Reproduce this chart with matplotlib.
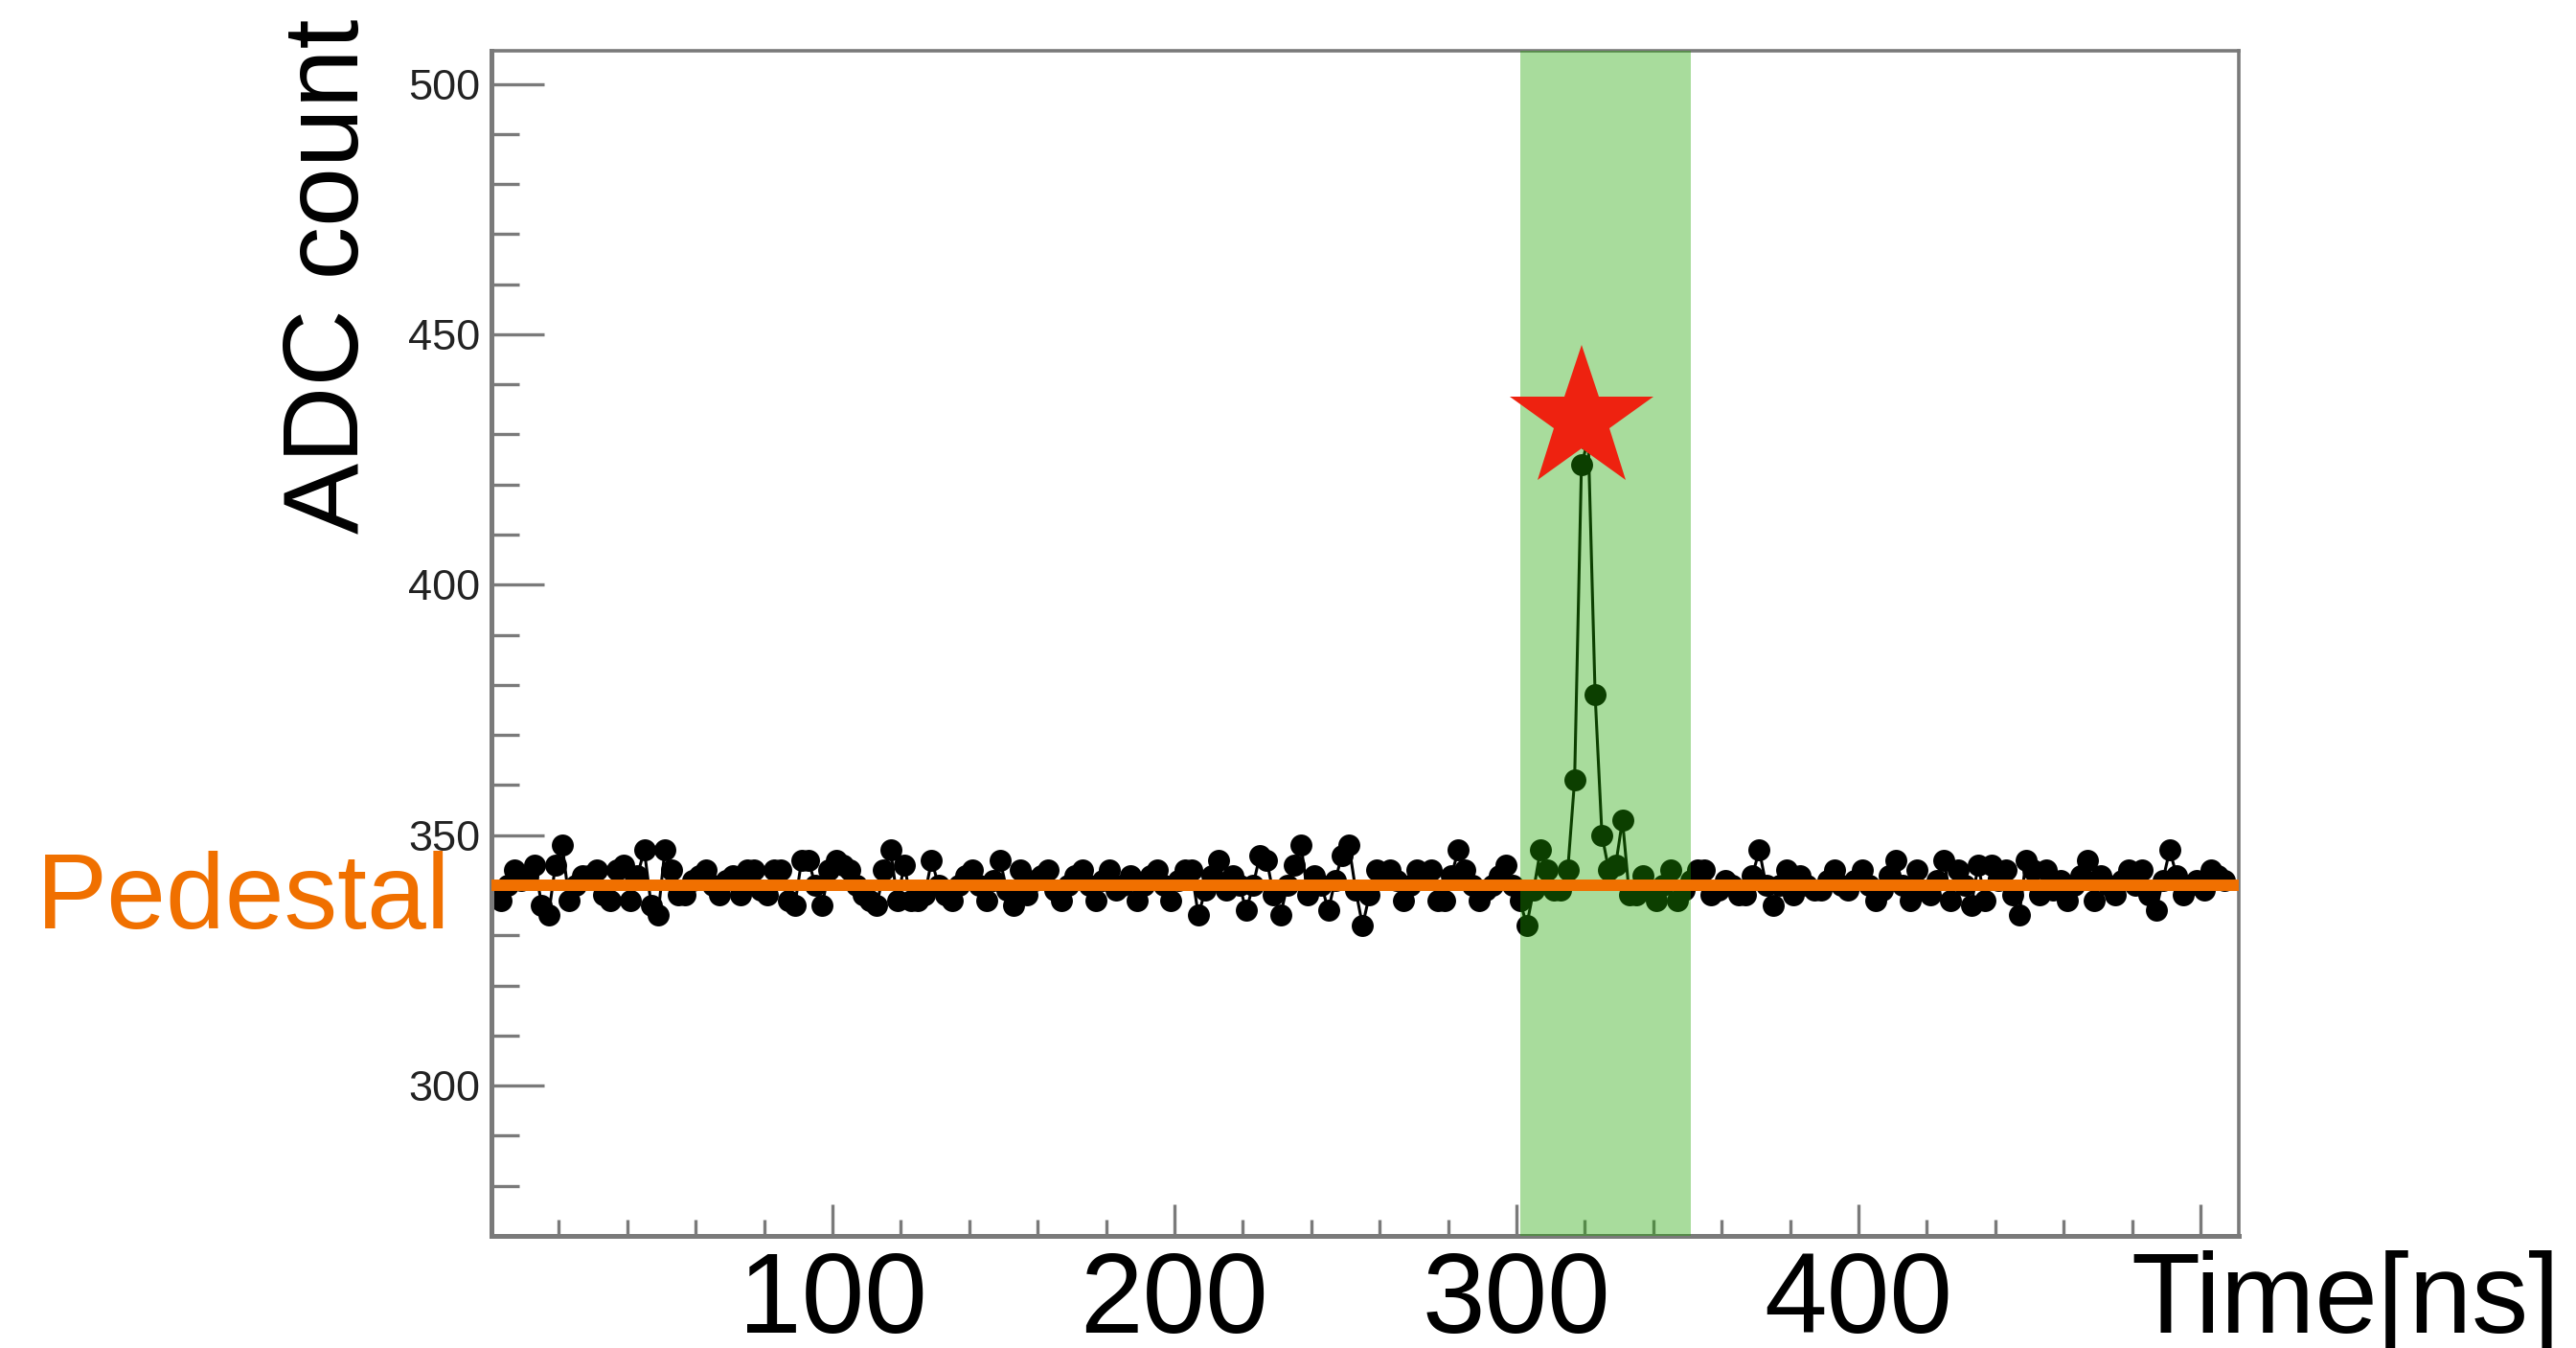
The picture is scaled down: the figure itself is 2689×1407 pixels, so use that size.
import matplotlib
matplotlib.use("Agg")
import matplotlib.pyplot as plt
from matplotlib.ticker import MultipleLocator
import numpy as np

plt.rcParams["font.family"] = ["Liberation Sans", "DejaVu Sans"]

# waveform samples: one ADC reading every 2 ns, first sample at 1 ns
sample_start_ns = 1
sample_step_ns = 2
adc_counts = [
    338, 337, 340, 343, 341, 342, 344, 336, 334, 344,
    348, 337, 340, 342, 342, 343, 338, 337, 343, 344,
    337, 342, 347, 336, 334, 347, 343, 338, 338, 341,
    342, 343, 340, 338, 341, 342, 338, 343, 343, 339,
    338, 343, 343, 337, 336, 345, 345, 340, 336, 343,
    345, 344, 343, 340, 338, 337, 336, 343, 347, 337,
    344, 337, 337, 338,
    345, 340, 338, 337, 340, 342, 343, 340, 337, 341,
    345, 339, 336, 343, 338, 341, 342, 343, 339, 337,
    340, 342, 343, 340, 337, 341, 343, 339, 340, 342,
    337, 340, 342, 343, 340, 337, 341, 343, 343, 334,
    339, 342, 345, 339, 342, 340, 335, 340, 346, 345,
    338, 334, 340, 344, 348, 338, 342, 340, 335, 341,
    346, 348, 339, 332,
    338, 343, 342, 343, 341, 337, 340, 343, 342, 343,
    337, 337, 342, 347, 343, 340, 337, 339, 340, 342,
    344, 340, 337, 332, 339, 347, 343, 339, 339, 343,
    361, 424, 429, 378, 350, 343, 344, 353, 338, 338,
    342, 339, 337, 340, 343, 337, 339, 341, 343, 343,
    338, 339, 341, 340, 338, 338, 342, 347, 340, 336,
    340, 343, 338, 342,
    340, 339, 339, 341, 343, 340, 339, 341, 343, 340,
    337, 339, 342, 345, 340, 337, 343, 339, 338, 341,
    345, 337, 343, 340, 336, 344, 337, 344, 341, 343,
    338, 334, 345, 343, 338, 343, 339, 341, 337, 340,
    342, 345, 337, 342, 340, 338, 341, 343, 340, 343,
    338, 335, 341, 347, 342, 338, 340, 341, 339, 343,
    342, 341,
]
time_ns = sample_start_ns + sample_step_ns * np.arange(len(adc_counts))

pedestal = 340
window_ns = (301, 351)
peak_mark = (319, 433)

x_ticks = [100, 200, 300, 400, 500]
x_tick_labels = ["100", "200", "300", "400", ""]
y_ticks = [300, 350, 400, 450, 500]

W, H = 2689, 1407
fig = plt.figure(figsize=(W / 100, H / 100), dpi=100)
ax = fig.add_axes([513 / W, 1 - 1290 / H, (2337 - 513) / W, (1290 - 53) / H])

ax.plot(time_ns, adc_counts, color="black", lw=2.2, marker="o",
        markersize=16.5, markeredgewidth=0, zorder=2)
ax.axvspan(*window_ns, color="#1fa500", alpha=0.39, lw=0, zorder=3)
ax.axhline(pedestal, color="#f07000", lw=8.6, zorder=4)
ax.plot(*peak_mark, marker="*", color="#ee2210", markersize=113,
        markeredgewidth=0, zorder=5)

ax.set_xlim(0.3, 511.2)
ax.set_ylim(270, 506.6)

ax.xaxis.set_major_locator(MultipleLocator(100))
ax.xaxis.set_minor_locator(MultipleLocator(20))
ax.yaxis.set_major_locator(MultipleLocator(50))
ax.yaxis.set_minor_locator(MultipleLocator(10))
ax.set_xticks(x_ticks)
ax.set_xticklabels(x_tick_labels)
ax.set_yticks(y_ticks)

tick_gray = "#7a7a7a"
ax.tick_params(axis="both", which="both", direction="in", color=tick_gray,
               width=2.4, top=False, right=False)
ax.tick_params(axis="y", which="major", length=39.6, pad=8.5,
               labelsize=32.5, labelcolor="#222222")
ax.tick_params(axis="y", which="minor", length=20.9)
ax.tick_params(axis="x", which="major", length=23.8, pad=11,
               labelsize=85, labelcolor="black")
ax.tick_params(axis="x", which="minor", length=12.2)

for side in ["left", "bottom"]:
    ax.spines[side].set_linewidth(3.6)
    ax.spines[side].set_color(tick_gray)
for side in ["top", "right"]:
    ax.spines[side].set_linewidth(2.6)
    ax.spines[side].set_color(tick_gray)

fig.text(38 / W, 1 - 969 / H, "Pedestal", color="#f07000", fontsize=80,
         ha="left", va="baseline")
fig.text(374 / W, 1 - 557 / H, "ADC count", color="black", fontsize=80,
         rotation=90, rotation_mode="anchor", ha="left", va="baseline")
fig.text(2672 / W, 1 - 1391 / H, "Time[ns]", color="black", fontsize=85,
         ha="right", va="baseline")

fig.savefig("out.png", dpi=100, facecolor="white")
